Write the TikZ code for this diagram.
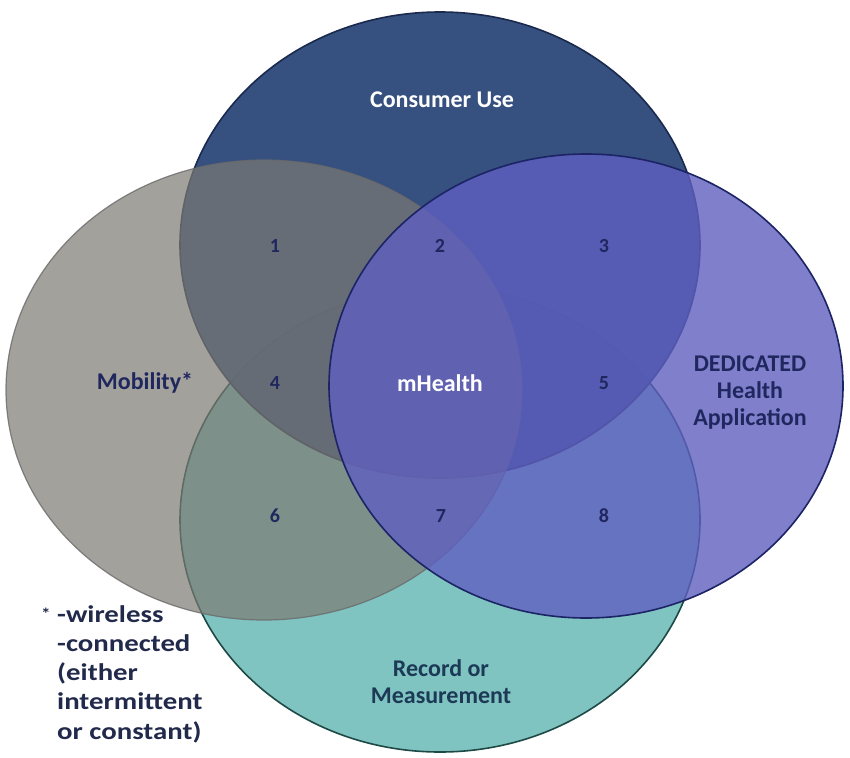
\documentclass[tikz,border=0pt]{standalone}
\usepackage{fontspec}
\setmainfont{Carlito}
\newfontfamily\notefont[FakeStretch=1.2]{Carlito}
\definecolor{consumerfill}{HTML}{2A4678}
\definecolor{consumerline}{HTML}{1A2A4E}
\definecolor{recordfill}{HTML}{80C4C2}
\definecolor{recordline}{HTML}{1E4A46}
\definecolor{mobilityfill}{RGB}{125,122,115}
\definecolor{mobilityline}{HTML}{6A6A6A}
\definecolor{dedicatedfill}{RGB}{95,95,192}
\definecolor{dedicatedline}{HTML}{1C2466}
\definecolor{labelblue}{HTML}{1F275E}
\definecolor{recordtext}{HTML}{1C3A56}
\definecolor{notetext}{HTML}{222A4C}
\begin{document}
\begin{tikzpicture}[x=1pt,y=-1pt,
  lbl/.style={font=\fontsize{24}{27}\selectfont\bfseries, align=center, inner sep=0pt},
  num/.style={font=\fontsize{20}{22}\selectfont\bfseries, text=labelblue, inner sep=0pt},
  setline/.style={line width=1.6},
]
\useasboundingbox[fill=white] (0,0) rectangle (850,757);

% Record or Measurement (bottom)
\fill[recordfill] (440,520) ellipse [x radius=260, y radius=232];
\draw[setline, recordline] (440,520) ellipse [x radius=260, y radius=232];

% Consumer Use (top)
\fill[consumerfill, opacity=0.94] (440,245) ellipse [x radius=260, y radius=233];
\draw[setline, consumerline] (440,245) ellipse [x radius=260, y radius=233];

% Mobility (left)
\fill[mobilityfill, opacity=0.7] (264,390) ellipse [x radius=258, y radius=230];
\draw[line width=1.2, mobilityline, opacity=0.8] (264,390) ellipse [x radius=258, y radius=230];

% DEDICATED Health Application (right)
\fill[dedicatedfill, opacity=0.8] (586,386) ellipse [x radius=257, y radius=232];
\draw[setline, dedicatedline] (586,386) ellipse [x radius=257, y radius=232];

% set labels
\node[lbl, text=white] (consumer) at (442,100) {Consumer Use};
\node[lbl, text=labelblue] (mobility) at (145,383) {Mobility*};
\node[lbl, text=white] (mhealth) at (440,383) {mHealth};
\node[lbl, text=labelblue] (dedicated) at (750,393) {DEDICATED\\Health\\Application};
\node[lbl, text=recordtext] (record) at (441,682) {Record or\\Measurement};

% region numbers
\node[num] (r1) at (275,246) {1};
\node[num] (r2) at (440,246) {2};
\node[num] (r3) at (604,246) {3};
\node[num] (r4) at (275,383) {4};
\node[num] (r5) at (604,383) {5};
\node[num] (r6) at (275,516) {6};
\node[num] (r7) at (441,516) {7};
\node[num] (r8) at (604,516) {8};

% footnote
\node[font={\notefont\fontsize{24}{29.3}\selectfont\bfseries}, text=notetext, align=left,
      anchor=north west, inner sep=0pt] (note) at (57,605)
  {\llap{\raisebox{3pt}{\fontsize{16}{16}\selectfont *}\ }-wireless\\-connected\\(either\\intermittent\\or constant)};
\end{tikzpicture}
\end{document}
